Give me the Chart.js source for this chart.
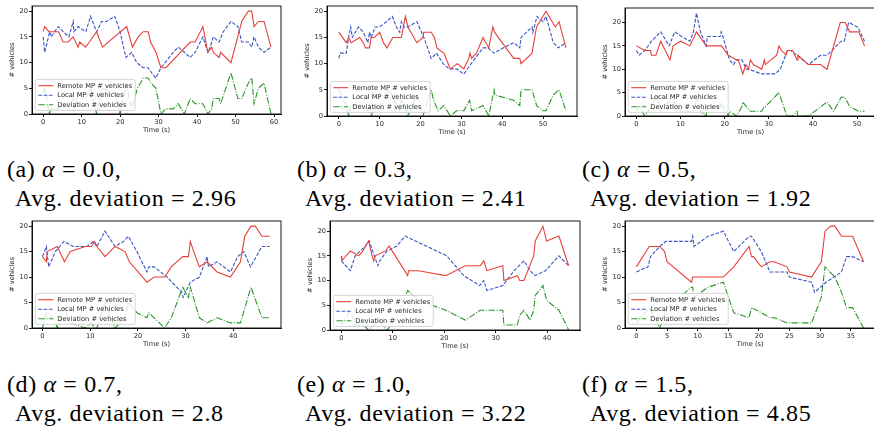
<!DOCTYPE html>
<html>
<head>
<meta charset="utf-8">
<script src="https://cdn.jsdelivr.net/npm/chart.js@4.4.1/dist/chart.umd.min.js"></script>
<style>
  html, body { margin: 0; padding: 0; background: #fff; overflow: hidden; }
  body { position: relative; width: 874px; height: 427px; }
  canvas { position: absolute; }
  .cap { position: absolute; font-family: "Liberation Serif", "DejaVu Serif", serif; font-size: 24px; line-height: 28.5px; letter-spacing: 0.6px; color: #000; white-space: nowrap; }
  .cap .eq { margin: 0 0.28em; }
</style>
</head>
<body>
<script>
// (a) alpha = 0.0
var remoteA_t = [0, 0.4, 1.5, 4, 5.2, 6.5, 7.8, 9.1, 9.5, 11, 12, 13.9, 15.4, 21.7, 23.2, 24.7, 26, 27.3, 27.9, 29.3, 30.6, 31.9, 38.2, 39.5, 41.5, 42.8, 43.8, 44.2, 45.7, 46.1, 48.8, 51.6, 53.3, 54.2, 54.8, 55.9, 57.4, 59.2]
var remoteA = [16, 17, 16, 16, 14, 14, 15, 13, 14, 13, 14, 16, 13, 17, 13, 15, 16, 16, 14, 12, 9, 9, 14, 14, 17, 12, 13, 12, 11, 12, 10, 18, 20, 20, 17, 18, 18, 13]
var localA_t = [0, 0.4, 1.7, 2.1, 3.9, 5.2, 6.7, 7.8, 8.0, 9.1, 11.1, 12.3, 13.9, 15.2, 16.5, 18.6, 20, 21.5, 23, 24.3, 26, 27.3, 28.2, 29.3, 30.6, 31.7, 33.8, 35.1, 36.7, 38.2, 39.5, 41.5, 42.8, 43.4, 44.2, 45.7, 46.8, 48.8, 50.6, 51.6, 53.3, 54.2, 54.8, 55.9, 57.4, 59.2]
var localA = [15, 12, 16, 15, 17, 16, 15, 18, 16, 17, 16, 19, 16, 18, 18, 19, 16, 11, 12, 10, 9, 9, 8, 7, 9, 10, 12, 13, 12, 11, 12, 15, 12, 13, 15, 14, 16, 18, 17, 14, 14, 13, 15, 13, 12, 13]
var devA_t = [0, 0.4, 1.6, 2.1, 3.9, 5.2, 6.6, 7.8, 8.0, 9.1, 11, 12.3, 13.9, 15.3, 18.6, 20, 21.6, 23, 24.5, 26, 27.3, 28, 29.3, 30.6, 31.8, 33.8, 35.1, 36.7, 38.2, 39.5, 41.5, 42.8, 43.8, 44.2, 45.7, 46.1, 48.8, 50.6, 51.6, 53.3, 54.2, 54.8, 55.9, 57.4, 59.2]
var devA = [4, 5, 0, 1, 1, 2, 1, 3, 1, 4, 3, 5, 0, 5, 4, 0, 6, 1, 5, 7, 7, 6, 5, 0, 1, 1, 2, 0, 3, 2, 2, 0, 1, 3, 3, 2, 8, 3, 3, 6, 7, 2, 5, 6, 0]

// (b) alpha = 0.3
var remoteB_t = [0, 1.8, 2.4, 3, 5.1, 6, 6.5, 7.5, 7.9, 8.7, 10, 10.9, 11.8, 13.2, 15.3, 16.3, 16.9, 19.1, 20.6, 20.8, 22.6, 23.4, 24, 25.7, 27.3, 29, 30.6, 31.8, 32.1, 32.5, 33.7, 35.3, 36.7, 37.7, 38.1, 42.8, 44.3, 44.6, 47.3, 48.4, 50.7, 53, 53.9, 55.6]
var remoteB = [16, 14, 15, 14, 15, 14, 13, 13, 15, 15, 16, 14, 13, 15, 15, 19, 17, 14, 15, 16, 16, 15, 13, 12, 9, 10, 9, 11, 12, 11, 12, 15, 13, 17, 16, 11, 11, 10, 12, 17, 20, 17, 18, 13]
var localB_t = [0, 0.3, 1.8, 2.4, 2.9, 3.3, 4.8, 6, 7.1, 7.5, 7.9, 8.9, 10, 11.6, 13.1, 14.1, 14.9, 15.3, 16, 16.9, 19.1, 20.8, 22.6, 23.9, 25.5, 27, 28.8, 30.6, 32.4, 35.3, 36.5, 38, 40.2, 42.8, 44.3, 44.6, 47.3, 47.5, 48.5, 50, 50.7, 52.5, 53.7, 55.6]
var localB = [11, 12, 12, 15, 17, 15, 17, 16, 14, 16, 15, 17, 17, 18, 19, 17, 16, 18, 17, 17, 18, 15, 11, 12, 10, 9, 9, 8, 10, 13, 13, 12, 13, 14, 13, 15, 17, 16, 19, 18, 19, 14, 13, 14]
var devB_t = [0, 1.8, 2.4, 2.9, 4.8, 6, 6.5, 7.1, 7.5, 7.9, 8.9, 10, 10.9, 11.8, 13.2, 14.1, 14.9, 15.3, 16.3, 16.9, 19.1, 20.6, 22.6, 23.2, 24.3, 25.7, 27.3, 28.8, 30.6, 32, 32.5, 35.3, 36.7, 38, 38.2, 42.8, 44.3, 44.6, 47.3, 48.4, 50, 50.7, 52.5, 53.9, 55.6]
var devB = [5, 2, 0, 2, 2, 2, 2, 1, 2, 0, 2, 1, 3, 5, 4, 2, 1, 3, 2, 0, 4, 0, 5, 3, 1, 2, 0, 1, 1, 3, 1, 2, 0, 5, 4, 3, 2, 5, 5, 2, 1, 1, 4, 5, 1]

// (c) alpha = 0.5
var remoteC_t = [0, 1.9, 3.2, 3.4, 4.4, 5.5, 7.6, 8.3, 10, 12.1, 13.6, 15.8, 19.3, 20.8, 22.7, 23.1, 24.1, 24.8, 25.4, 25.8, 26.5, 28.4, 29, 29.2, 31.8, 32.3, 32.9, 33.9, 34.2, 35.4, 36.4, 36.6, 39, 41.7, 43.2, 44.7, 46.2, 47.3, 48.3, 50.4, 51.7]
var remoteC = [15, 14, 14, 13, 13, 16, 12, 15, 16, 15, 18, 15, 15, 13, 12, 12, 9, 11, 10, 12, 11, 10, 12, 11, 13, 15, 14, 13, 14, 14, 12, 13, 11, 11, 10, 15, 20, 20, 18, 18, 15]
var localC_t = [0, 0.6, 1.9, 3.4, 5.5, 7.4, 8.7, 10.2, 12.1, 12.9, 13.6, 14.5, 15.8, 16.1, 19, 19.2, 19.6, 21.1, 22, 22.6, 23.9, 24.9, 25.4, 28.4, 31.4, 32.6, 34.2, 35, 36.4, 39, 41.7, 43.2, 44.3, 46.4, 47.1, 48.1, 50.2, 51.7]
var localC = [14, 13, 14, 16, 18, 15, 18, 17, 16, 18, 22, 18, 15, 17, 17, 18, 17, 12, 11, 12, 12, 10, 10, 9, 9, 10, 14, 14, 13, 11, 13, 13, 14, 16, 16, 20, 19, 16]
var devC_t = [0, 0.6, 1.9, 3.4, 4.4, 5.5, 7.5, 8.3, 8.7, 10.1, 12.1, 12.9, 13.6, 14.5, 15.8, 16.1, 19, 19.2, 19.6, 20.8, 21.1, 22.7, 23.9, 24.1, 24.9, 25.8, 26.5, 28.4, 29, 29.2, 32.3, 34.1, 35.4, 36.4, 36.6, 39, 43.2, 44.7, 46.4, 47.3, 48.3, 50.4, 51.7]
var devC = [1, 2, 0, 2, 4, 2, 3, 2, 3, 1, 1, 1, 4, 1, 0, 2, 2, 3, 2, 0, 1, 0, 2, 3, 2, 1, 1, 1, 2, 2, 5, 0, 0, 1, 0, 0, 3, 1, 4, 4, 2, 1, 1]

// (d) alpha = 0.7
var remoteD_t = [0, 0.8, 1, 3.1, 4.6, 5.8, 9, 10.3, 10.9, 11.4, 13.1, 15.2, 17.3, 18.2, 21.9, 23.4, 25.6, 27, 29.4, 30.6, 31, 31.7, 32.9, 34.5, 36.6, 39.4, 41.5, 42.4, 43.7, 44.6, 46, 47.6]
var remoteD = [14, 13, 15, 16, 13, 15, 16, 16, 17, 16, 14, 16, 15, 13, 9, 10, 10, 12, 14, 14, 17, 15, 12, 13, 11, 10, 13, 18, 20, 20, 18, 18]
var localD_t = [0, 0.8, 1.3, 2.7, 4.5, 6.5, 9.3, 10.7, 11.4, 13.1, 15.2, 17, 18, 19.8, 21.9, 22.3, 23.4, 26.1, 29.2, 29.5, 31, 32.9, 34.5, 34.8, 36.6, 39.4, 40.9, 42.2, 43.6, 46, 47.6]
var localD = [14, 16, 12, 15, 17, 16, 16, 17, 16, 19, 16, 17, 18, 15, 11, 12, 12, 10, 7, 6, 9, 10, 14, 12, 13, 11, 14, 15, 12, 16, 16]
var devD_t = [0, 0.8, 1.3, 2.7, 3.1, 4.5, 5.8, 9, 10.3, 10.9, 11.4, 13.1, 15.2, 17.3, 18, 19.8, 21.9, 22.3, 23.4, 25.6, 27, 29.4, 30.6, 31, 32.9, 34.5, 36.6, 39.4, 41.5, 43.7, 46, 47.6]
var devD = [0, 3, 3, 1, 0, 4, 1, 0, 1, 0, 0, 5, 0, 2, 5, 3, 2, 3, 2, 0, 2, 8, 6, 8, 2, 1, 2, 1, 1, 8, 2, 2]

// (e) alpha = 1.0
var remoteE_t = [0, 0.1, 1.75, 3.4, 4.2, 5.3, 6, 6.3, 6.6, 8.6, 9.3, 10.5, 12.9, 13.1, 15, 20.3, 24.1, 27, 27.7, 28.3, 31.4, 31.6, 34.2, 34.7, 35.5, 37.4, 37.7, 39.2, 39.9, 42.3, 44.2]
var remoteE = [15, 14, 16, 15, 16, 18, 15, 14, 15, 16, 17, 15, 11, 12, 12, 11, 13, 13, 14, 12, 13, 10, 11, 10, 10, 15, 18, 21, 18, 19, 13]
var localE_t = [0, 1.75, 2.7, 4.7, 5.4, 7.1, 7.5, 8.9, 10.8, 12.4, 20.5, 23.8, 26.9, 27.7, 28.3, 31.4, 33.6, 35.5, 36.7, 37.7, 39.7, 42.3, 44.2]
var localE = [14, 12, 15, 17, 18, 13, 14, 16, 17, 19, 15, 11, 9, 10, 8, 9, 12, 14, 12, 11, 12, 15, 13]
var devE_t = [0, 1.75, 2.7, 4.2, 5.3, 6.3, 7.1, 8.9, 10.5, 12.9, 15, 20.3, 24.1, 27, 27.7, 28.3, 31.4, 31.6, 34.2, 34.7, 35.5, 36.7, 37.4, 37.7, 39.2, 39.9, 42.3, 44.2]
var devE = [1, 4, 1, 1, 0, 1, 2, 0, 2, 8, 6, 4, 2, 4, 4, 4, 4, 1, 1, 3, 4, 2, 4, 7, 9, 6, 4, 0]

// (f) alpha = 1.5
var remoteF_t = [0, 2.1, 3.8, 4.6, 5, 9, 9.2, 14.2, 15.9, 18.4, 18.8, 19.1, 20.4, 21.8, 22.5, 24.6, 25, 28.6, 30.2, 30.8, 31.7, 32.4, 33.5, 35.3, 37.1]
var remoteF = [12, 16, 16, 15, 13, 9, 10, 10, 12, 16, 14, 14, 12, 13, 13, 12, 11, 10, 13, 19, 20, 20, 18, 18, 13]
var localF_t = [0, 1.9, 2.3, 3.8, 4.8, 9, 9.2, 9.4, 11.7, 14.2, 15.9, 18.4, 18.8, 20.4, 21.8, 24.6, 25, 28.6, 29.1, 31, 33.5, 34.3, 35.3, 37.1]
var localF = [11, 12, 14, 16, 17, 17, 18, 16, 18, 19, 15, 18, 18, 15, 11, 11, 10, 9, 7, 9, 11, 14, 14, 13]
var devF_t = [0, 2.1, 3.8, 5, 9, 9.2, 9.4, 11.7, 14.2, 15.9, 18.4, 18.8, 20.4, 21.8, 22.5, 24.6, 28.6, 30.2, 30.8, 32.4, 33.5, 34.3, 35.3, 37.1]
var devF = [1, 4, 0, 4, 8, 8, 6, 8, 9, 3, 2, 4, 3, 2, 2, 1, 1, 6, 12, 10, 7, 4, 4, 0]

// tick labels
var yTicks = [0, 5, 10, 15, 20]
var xTicks10A = [0, 10, 20, 30, 40, 50, 60]
var xTicks10B = [0, 10, 20, 30, 40, 50]
var xTicks10D = [0, 10, 20, 30, 40]
var xTicks5F = [0, 5, 10, 15, 20, 25, 30, 35]

var seriesLabels = ["Remote MP # vehicles", "Local MP # vehicles", "Deviation # vehicles"]
var captions = [
  ["(a)", "0.0", "2.96"], ["(b)", "0.3", "2.41"], ["(c)", "0.5", "1.92"],
  ["(d)", "0.7", "2.8"], ["(e)", "1.0", "3.22"], ["(f)", "1.5", "4.85"]
]

var RED = "#e6403a"
var BLUE = "#3a55c4"
var GREEN = "#2a962a"
var FONT = { family: "DejaVu Sans", size: 6.7 }
var TXT = "#262626"

// box = axes frame in page pixels, xr/ymax = axis limits
var panels = [
  { box: { l: 32, t: 6, r: 281, b: 114 }, xr: [-2.9, 61.8], ymax: 21, xt: xTicks10A,
    s: [[remoteA_t, remoteA], [localA_t, localA], [devA_t, devA]] },
  { box: { l: 327, t: 6, r: 577, b: 116 }, xr: [-2.9, 58.3], ymax: 21, xt: xTicks10B,
    s: [[remoteB_t, remoteB], [localB_t, localB], [devB_t, devB]] },
  { box: { l: 625, t: 8, r: 876, b: 116 }, xr: [-2.6, 54.3], ymax: 23.1, xt: xTicks10B,
    s: [[remoteC_t, remoteC], [localC_t, localC], [devC_t, devC]] },
  { box: { l: 32, t: 221, r: 281, b: 328 }, xr: [-2.2, 50.0], ymax: 21, xt: xTicks10D,
    s: [[remoteD_t, remoteD], [localD_t, localD], [devD_t, devD]] },
  { box: { l: 330, t: 221, r: 580, b: 330 }, xr: [-2.2, 46.4], ymax: 22.05, xt: xTicks10D,
    s: [[remoteE_t, remoteE], [localE_t, localE], [devE_t, devE]] },
  { box: { l: 625, t: 221, r: 875, b: 328 }, xr: [-1.86, 38.96], ymax: 21, xt: xTicks5F,
    s: [[remoteF_t, remoteF], [localF_t, localF], [devF_t, devF]] }
]

function pts(t, v) {
  return t.map(function (x, i) { return { x: x, y: v[i] } })
}

// black box around the axes, then the legend in the lower left corner
var frameAndLegend = {
  id: "frameAndLegend",
  afterDatasetsDraw: function (chart) {
    var ctx = chart.ctx
    var a = chart.chartArea
    ctx.save()
    ctx.strokeStyle = "#000"
    ctx.lineWidth = 0.9
    ctx.strokeRect(a.left, a.top, a.right - a.left, a.bottom - a.top)

    ctx.font = FONT.size + "px " + FONT.family
    var sets = chart.data.datasets
    var tw = Math.max.apply(null, sets.map(function (d) { return ctx.measureText(d.label).width }))
    var w = 3 + 15 + 4 + tw + 3
    var h = 31
    var x = a.left + 3.3
    var y = a.bottom - 3.6 - h
    ctx.beginPath()
    ctx.roundRect(x, y, w, h, 2)
    ctx.fillStyle = "rgba(255,255,255,0.8)"
    ctx.fill()
    ctx.strokeStyle = "#cccccc"
    ctx.lineWidth = 0.8
    ctx.stroke()
    sets.forEach(function (d, i) {
      var cy = y + 6.3 + i * 9.5
      ctx.beginPath()
      ctx.setLineDash(d.borderDash || [])
      ctx.strokeStyle = d.borderColor
      ctx.lineWidth = d.borderWidth
      ctx.moveTo(x + 3, cy)
      ctx.lineTo(x + 18, cy)
      ctx.stroke()
      ctx.setLineDash([])
      ctx.fillStyle = TXT
      ctx.textBaseline = "middle"
      ctx.fillText(d.label, x + 22, cy + 0.5)
    })
    ctx.restore()
  }
}

function makePanel(p) {
  var b = p.box
  var cv = document.createElement("canvas")
  var cw = (b.r - b.l) + 32 + 2
  var ch = (b.b - b.t) + 6 + 26
  cv.width = cw
  cv.height = ch
  cv.style.left = (b.l - 32) + "px"
  cv.style.top = (b.t - 6) + "px"
  cv.style.width = cw + "px"
  cv.style.height = ch + "px"
  document.body.appendChild(cv)

  var styles = [
    { borderColor: RED, borderDash: [] },
    { borderColor: BLUE, borderDash: [3.7, 1.6] },
    { borderColor: GREEN, borderDash: [6.4, 1.6, 1, 1.6] }
  ]
  var datasets = p.s.map(function (s, i) {
    return {
      label: seriesLabels[i],
      data: pts(s[0], s[1]),
      borderColor: styles[i].borderColor,
      borderDash: styles[i].borderDash,
      borderWidth: 1.1,
      pointRadius: 0,
      tension: 0,
      fill: false
    }
  })

  return new Chart(cv, {
    type: "line",
    data: { datasets: datasets },
    options: {
      responsive: false,
      animation: false,
      events: [],
      layout: { padding: { top: 6, right: 2, left: 0, bottom: 0 } },
      plugins: { legend: { display: false }, tooltip: { enabled: false } },
      scales: {
        x: {
          type: "linear",
          min: p.xr[0],
          max: p.xr[1],
          afterBuildTicks: function (s) { s.ticks = p.xt.map(function (v) { return { value: v } }) },
          afterFit: function (s) { s.height = 26 },
          grid: { drawOnChartArea: false, tickLength: 3, tickColor: "#000", tickWidth: 0.9 },
          border: { display: true, color: "#000", width: 0.9 },
          ticks: { font: FONT, color: TXT, padding: 1, maxRotation: 0, autoSkip: false,
            callback: function (v) { return String(v) } },
          title: { display: true, text: "Time (s)", font: FONT, color: TXT, padding: { top: 0, bottom: 5.5 } }
        },
        y: {
          type: "linear",
          min: 0,
          max: p.ymax,
          afterBuildTicks: function (s) { s.ticks = yTicks.map(function (v) { return { value: v } }) },
          afterFit: function (s) { s.width = 32 },
          grid: { drawOnChartArea: false, tickLength: 3, tickColor: "#000", tickWidth: 0.9 },
          border: { display: true, color: "#000", width: 0.9 },
          ticks: { font: FONT, color: TXT, padding: 1, autoSkip: false,
            callback: function (v) { return String(v) } },
          title: { display: true, text: "# vehicles", font: FONT, color: TXT, padding: { top: 8, bottom: 0 } }
        }
      }
    },
    plugins: [frameAndLegend]
  })
}

panels.forEach(makePanel)

// sub-figure captions under each panel (two lines, second one indented)
var capPos = [[7, 155], [297, 155], [582, 155], [7, 370], [297, 370], [582, 370]]
captions.forEach(function (c, i) {
  var d1 = document.createElement("div")
  d1.className = "cap"
  d1.style.left = capPos[i][0] + "px"
  d1.style.top = capPos[i][1] + "px"
  d1.innerHTML = c[0] + " <i>α</i><span class=\"eq\">=</span>" + c[1] + ","
  document.body.appendChild(d1)
  var d2 = document.createElement("div")
  d2.className = "cap"
  d2.style.left = (capPos[i][0] + 8) + "px"
  d2.style.top = (capPos[i][1] + 28.5) + "px"
  d2.innerHTML = "Avg. deviation<span class=\"eq\">=</span>" + c[2]
  document.body.appendChild(d2)
})
</script>
</body>
</html>
